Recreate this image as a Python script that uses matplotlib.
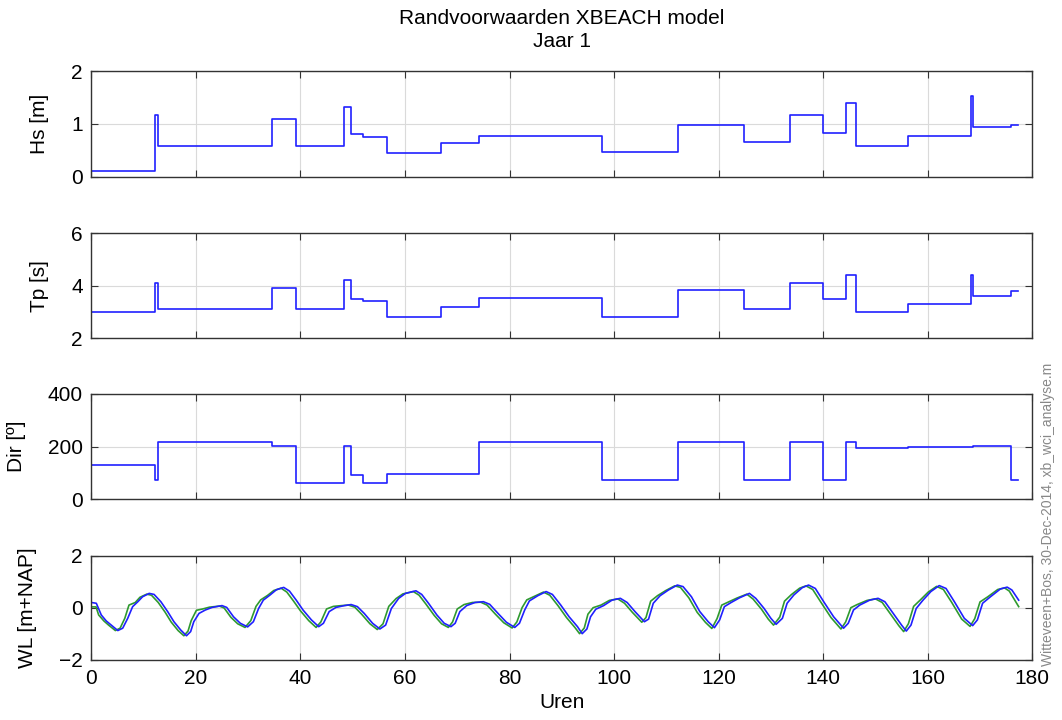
import matplotlib
matplotlib.use("Agg")
import matplotlib.pyplot as plt

plt.rcParams['font.family'] = ['Liberation Sans', 'DejaVu Sans']

# golfrandvoorwaarden (trapjes), tijd in uren
step_t = [0, 12.1, 12.7, 34.5, 39.1, 48.3, 49.7, 51.9, 56.5, 66.8, 74.2, 97.6,
          112.2, 124.8, 133.6, 139.9, 144.4, 146.2, 156.3, 168.2, 168.7, 175.9, 177.2]
hs = [0.1, 1.17, 0.58, 1.1, 0.59, 1.32, 0.81, 0.76, 0.44, 0.63, 0.77, 0.47,
      0.98, 0.66, 1.17, 0.82, 1.39, 0.58, 0.77, 1.53, 0.94, 0.98]
tp = [3.0, 4.11, 3.1, 3.9, 3.1, 4.22, 3.5, 3.42, 2.8, 3.2, 3.52, 2.8,
      3.82, 3.1, 4.11, 3.5, 4.42, 3.0, 3.32, 4.42, 3.61, 3.8]
wdir = [129, 75, 217, 201, 61, 201, 92, 62, 97, 95, 217, 75,
        217, 74, 217, 75, 217, 196, 198, 200, 201, 75]

# waterstand
wl_blue_t = [0, 0.95, 1.9, 2.85, 3.8, 5.07, 6.0, 6.96, 7.9, 8.9,
             9.8, 11.07, 12.0, 13.3, 14.6, 15.8, 17.1, 18.2, 19.0, 19.6,
             20.6, 21.8, 23.1, 25.0, 25.9, 27.2, 28.5, 29.9, 31.0, 32.0,
             32.9, 34.2, 35.4, 36.8, 37.9, 39.2, 40.5, 42.1, 43.5, 44.4,
             45.5, 46.8, 48.4, 49.7, 50.9, 52.2, 53.8, 55.2, 56.3, 57.4,
             58.8, 60.1, 62.1, 63.2, 64.5, 66.1, 67.5, 68.8, 69.6, 70.5,
             71.8, 73.4, 75.0, 76.2, 77.8, 79.4, 81.0, 81.9, 82.9, 83.8,
             85.4, 87.0, 88.2, 89.8, 91.4, 93.0, 93.9, 94.8, 95.5, 96.5,
             98.0, 99.6, 101.2, 102.5, 104.0, 105.8, 106.6, 107.5, 108.8, 110.4,
             112.1, 113.2, 114.8, 116.4, 118.0, 119.2, 120.2, 121.1, 122.4, 124.0,
             125.9, 127.1, 128.7, 130.0, 131.0, 132.2, 133.1, 134.4, 136.0, 137.2,
             138.5, 140.1, 142.0, 143.9, 144.8, 145.8, 147.0, 148.9, 150.5, 151.8,
             153.4, 155.0, 155.9, 156.8, 157.8, 159.1, 160.6, 162.2, 163.5, 165.1,
             167.0, 168.6, 169.5, 170.5, 172.0, 173.9, 175.2, 176.1, 177.4]
wl_blue = [0.2, 0.17, -0.28, -0.51, -0.67, -0.88, -0.79, -0.41, 0.04, 0.23,
           0.42, 0.55, 0.51, 0.23, -0.15, -0.54, -0.86, -1.08, -0.92, -0.54,
           -0.22, -0.09, 0.01, 0.08, 0.01, -0.35, -0.6, -0.74, -0.54, -0.03,
           0.29, 0.49, 0.69, 0.78, 0.64, 0.29, -0.09, -0.47, -0.73, -0.6,
           -0.15, 0.01, 0.08, 0.12, 0.04, -0.22, -0.6, -0.82, -0.67, -0.03,
           0.36, 0.55, 0.65, 0.51, 0.17, -0.28, -0.6, -0.73, -0.6, -0.15,
           0.08, 0.2, 0.23, 0.13, -0.22, -0.56, -0.76, -0.6, -0.09, 0.26,
           0.46, 0.62, 0.51, 0.1, -0.35, -0.73, -1.0, -0.82, -0.35, -0.06,
           0.08, 0.29, 0.36, 0.2, -0.15, -0.54, -0.44, 0.17, 0.46, 0.68,
           0.87, 0.81, 0.42, -0.15, -0.54, -0.77, -0.47, 0.04, 0.2, 0.38,
           0.55, 0.36, -0.03, -0.41, -0.64, -0.41, 0.17, 0.49, 0.77, 0.87,
           0.74, 0.23, -0.35, -0.79, -0.6, -0.09, 0.1, 0.29, 0.36, 0.23,
           -0.22, -0.67, -0.9, -0.67, -0.03, 0.29, 0.62, 0.85, 0.74, 0.23,
           -0.41, -0.69, -0.47, 0.17, 0.42, 0.72, 0.79, 0.68, 0.29]
wl_green_t = [0, 0.9, 1.4, 2.4, 3.3, 4.6, 5.5, 6.4, 7.2, 8.4,
              9.3, 10.6, 11.5, 12.8, 14.1, 15.3, 16.6, 17.7, 18.5, 19.1,
              20.1, 21.3, 22.6, 24.5, 25.4, 26.7, 28.0, 29.4, 30.5, 31.5,
              32.4, 33.7, 34.9, 36.3, 37.4, 38.7, 40.0, 41.6, 43.0, 43.9,
              45.0, 46.3, 47.9, 49.2, 50.4, 51.7, 53.3, 54.7, 55.8, 56.9,
              58.3, 59.6, 61.6, 62.7, 64.0, 65.6, 67.0, 68.3, 69.1, 70.0,
              71.3, 72.9, 74.5, 75.7, 77.3, 78.9, 80.5, 81.4, 82.4, 83.3,
              84.9, 86.5, 87.7, 89.3, 90.9, 92.5, 93.4, 94.3, 95.0, 96.0,
              97.5, 99.1, 100.7, 102.0, 103.5, 105.3, 106.1, 107.0, 108.3, 109.9,
              111.6, 112.7, 114.3, 115.9, 117.5, 118.7, 119.7, 120.6, 121.9, 123.5,
              125.4, 126.6, 128.2, 129.5, 130.5, 131.7, 132.6, 133.9, 135.5, 136.7,
              138.0, 139.6, 141.5, 143.4, 144.3, 145.3, 146.5, 148.4, 150.0, 151.3,
              152.9, 154.5, 155.4, 156.3, 157.3, 158.6, 160.1, 161.7, 163.0, 164.6,
              166.5, 168.1, 169.0, 170.0, 171.5, 173.4, 174.7, 175.6, 177.4]
wl_green = [0.03, 0.03, -0.28, -0.51, -0.67, -0.88, -0.79, -0.41, 0.1, 0.2,
            0.4, 0.52, 0.48, 0.2, -0.17, -0.56, -0.88, -1.08, -0.9, -0.5,
            -0.1, -0.05, 0.02, 0.06, -0.01, -0.37, -0.62, -0.76, -0.5, 0.05,
            0.3, 0.47, 0.66, 0.75, 0.6, 0.25, -0.12, -0.5, -0.76, -0.55,
            -0.05, 0.05, 0.08, 0.1, 0.02, -0.25, -0.62, -0.84, -0.62, 0.05,
            0.35, 0.53, 0.62, 0.48, 0.14, -0.3, -0.62, -0.76, -0.55, -0.05,
            0.12, 0.2, 0.21, 0.1, -0.25, -0.58, -0.78, -0.55, 0.0, 0.3,
            0.45, 0.6, 0.48, 0.07, -0.38, -0.76, -1.0, -0.78, -0.25, 0.0,
            0.1, 0.28, 0.34, 0.17, -0.18, -0.56, -0.38, 0.25, 0.46, 0.66,
            0.84, 0.78, 0.38, -0.18, -0.57, -0.8, -0.42, 0.1, 0.22, 0.37,
            0.52, 0.33, -0.06, -0.44, -0.67, -0.36, 0.25, 0.5, 0.75, 0.84,
            0.7, 0.2, -0.38, -0.82, -0.55, 0.0, 0.12, 0.28, 0.34, 0.2,
            -0.25, -0.7, -0.92, -0.62, 0.05, 0.3, 0.6, 0.82, 0.7, 0.2,
            -0.44, -0.72, -0.42, 0.22, 0.42, 0.7, 0.76, 0.64, 0.04]

xticks = list(range(0, 181, 20))

fig = plt.figure(figsize=(10.62, 7.2), dpi=100)
left, width = 0.086, 0.886
bottoms = [0.7546, 0.5301, 0.3064, 0.0838]
heights = [0.1464, 0.1461, 0.1464, 0.1444]

panels = [
    ('Hs [m]', (0, 2), [0, 1, 2], hs),
    ('Tp [s]', (2, 6), [2, 4, 6], tp),
    ('Dir [º]', (0, 400), [0, 200, 400], wdir),
    ('WL [m+NAP]', (-2, 2), [-2, 0, 2], None),
]

for i, (lab, ylim, yt, vals) in enumerate(panels):
    ax = fig.add_axes([left, bottoms[i], width, heights[i]])
    if vals is not None:
        ax.plot(step_t, vals + [vals[-1]], drawstyle='steps-post', color='#2020ff', lw=1.2)
    else:
        ax.plot(wl_green_t, wl_green, color='#2f9a2f', lw=1.2)
        ax.plot(wl_blue_t, wl_blue, color='#2020ff', lw=1.2)
    ax.set_xlim(0, 180)
    ax.set_ylim(*ylim)
    ax.set_xticks(xticks)
    ax.set_yticks(yt)
    ax.grid(True, color='#dadada', lw=0.8)
    ax.tick_params(direction='in', top=True, right=True, length=5,
                   labelsize=15, color='#333333')
    ax.tick_params(axis='x', pad=7)
    ax.tick_params(axis='y', pad=6)
    for s in ax.spines.values():
        s.set_color('#333333')
        s.set_linewidth(1.0)
    ax.set_ylabel(lab, fontsize=15, labelpad=16)
    if i < 3:
        ax.set_xticklabels([])
    else:
        ax.set_xlabel('Uren', fontsize=15, labelpad=3)

fig.text(0.529, 0.975, 'Randvoorwaarden XBEACH model', ha='center', va='center', fontsize=15)
fig.text(0.529, 0.943, 'Jaar 1', ha='center', va='center', fontsize=15)
fig.text(0.987, 0.285, 'Witteveen+Bos, 30-Dec-2014, xb_wci_analyse.m', rotation=90,
         ha='center', va='center', fontsize=10, color='#888888')

fig.savefig('out.png', dpi=100)
